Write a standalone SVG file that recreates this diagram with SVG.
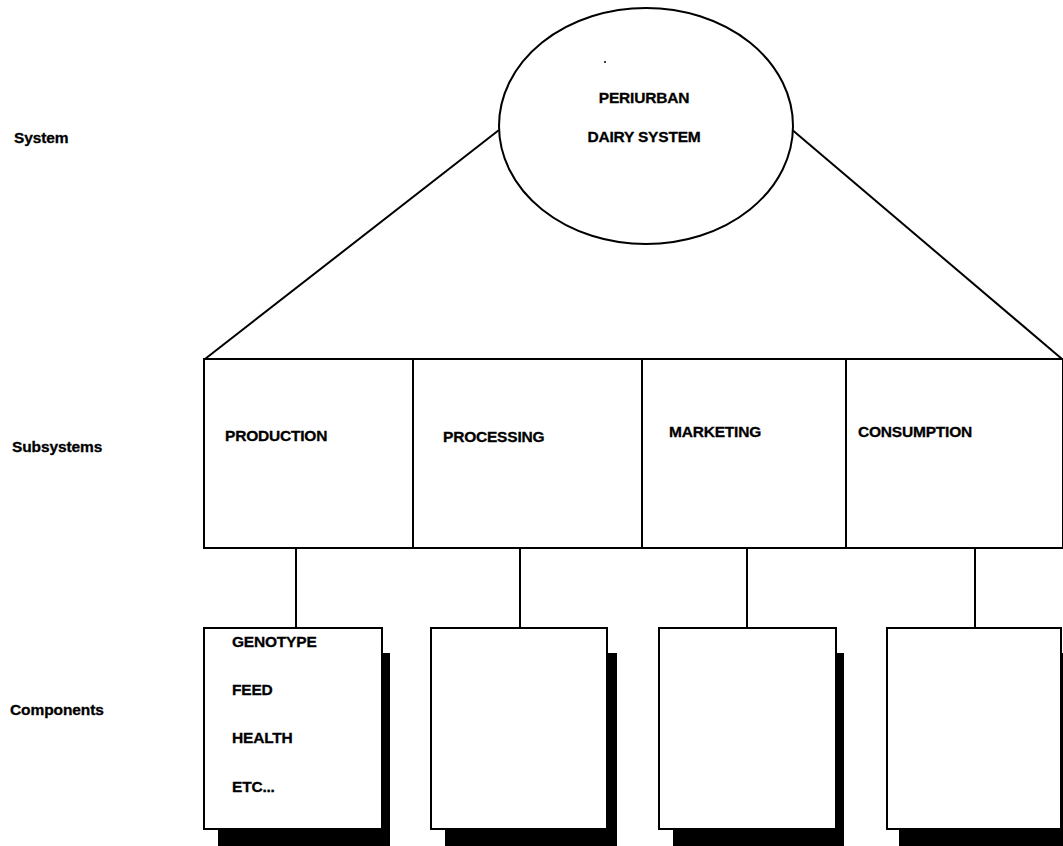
<svg xmlns="http://www.w3.org/2000/svg" width="1063" height="846" viewBox="0 0 1063 846">
<style>
.ln{stroke:#000;stroke-width:2;fill:none}
.bx{stroke:#000;stroke-width:2;fill:#fff}
.sh{fill:#000}
.t{font-family:"Liberation Sans",Arial,sans-serif;font-weight:bold;font-size:15.5px;fill:#000;letter-spacing:-0.2px;stroke:#000;stroke-width:0.3px}
.lb{font-family:"Liberation Sans",Arial,sans-serif;font-weight:bold;font-size:15.5px;fill:#000;letter-spacing:-0.1px;stroke:#000;stroke-width:0.3px}
</style>
<rect width="1063" height="846" fill="#fff"/>
<g id="labels">
<text class="lb" x="14" y="143">System</text>
<text class="lb" x="12" y="452">Subsystems</text>
<text class="lb" x="10" y="715">Components</text>
</g>
<g id="connectors">
<line class="ln" x1="499" y1="130" x2="205" y2="359"/>
<line class="ln" x1="790" y1="128" x2="1062" y2="359"/>
<line class="ln" x1="296" y1="548" x2="296" y2="628"/>
<line class="ln" x1="520" y1="548" x2="520" y2="628"/>
<line class="ln" x1="747" y1="548" x2="747" y2="628"/>
<line class="ln" x1="975" y1="548" x2="975" y2="628"/>
</g>
<g id="system">
<ellipse class="bx" cx="646" cy="126" rx="147" ry="118"/>
<circle cx="605" cy="62" r="1" fill="#000"/>
<text class="t" x="644" y="103" text-anchor="middle">PERIURBAN</text>
<text class="t" x="644" y="142" text-anchor="middle">DAIRY SYSTEM</text>
</g>
<g id="sub-production">
<rect class="bx" x="204" y="359" width="209" height="189"/>
<text class="t" x="225" y="441">PRODUCTION</text>
</g>
<g id="sub-processing">
<rect class="bx" x="413" y="359" width="229" height="189"/>
<text class="t" x="443" y="442">PROCESSING</text>
</g>
<g id="sub-marketing">
<rect class="bx" x="642" y="359" width="204" height="189"/>
<text class="t" x="669" y="437">MARKETING</text>
</g>
<g id="sub-consumption">
<rect class="bx" x="846" y="359" width="217" height="189"/>
<text class="t" x="858" y="437">CONSUMPTION</text>
</g>
<g id="comp-production">
<rect class="sh" x="218" y="653" width="172" height="200"/>
<rect class="bx" x="204" y="628" width="178" height="201"/>
<text class="t" x="232" y="647">GENOTYPE</text>
<text class="t" x="232" y="695">FEED</text>
<text class="t" x="232" y="743">HEALTH</text>
<text class="t" x="232" y="792">ETC...</text>
</g>
<g id="comp-processing">
<rect class="sh" x="445" y="653" width="172" height="200"/>
<rect class="bx" x="431" y="628" width="176" height="201"/>
</g>
<g id="comp-marketing">
<rect class="sh" x="673" y="653" width="171" height="200"/>
<rect class="bx" x="659" y="628" width="177" height="201"/>
</g>
<g id="comp-consumption">
<rect class="sh" x="899" y="653" width="170" height="200"/>
<rect class="bx" x="887" y="628" width="174" height="201"/>
</g>
</svg>
